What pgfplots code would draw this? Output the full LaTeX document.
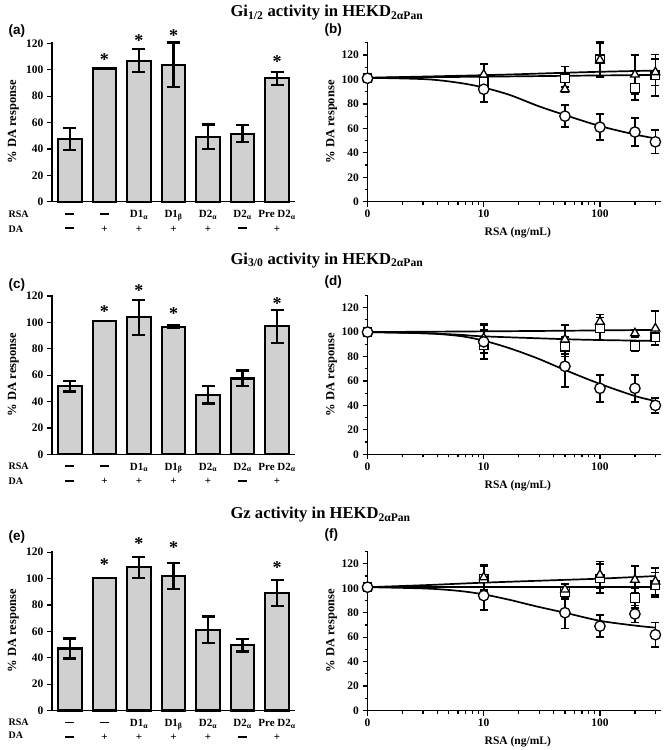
\documentclass[border=0pt]{standalone}
\usepackage{fontspec}
\setmainfont{Liberation Serif}
\newfontfamily\panelfont{Liberation Sans}
\usepackage{pgfplots}
\usepackage{pgfplotstable}
\pgfplotsset{compat=1.18}
\definecolor{barfill}{RGB}{208,208,208}
\newcommand{\dashm}{\rule[0.27em]{9pt}{1.8pt}}
\newcommand{\tl}[2]{\strut #1\\#2}
\newcommand{\sub}[1]{\textsubscript{#1}}

% ---------- bar data: x  mean  error ----------
\pgfplotstableread{
x y e
0 47.3 8.3
1 101 0
2 107 8.8
3 103.7 17
4 49.3 9.2
5 51.5 6.5
6 93.5 4.8
}\barA
\pgfplotstableread{
x y e
0 51.6 4
1 101 0
2 104 13.3
3 96.7 1
4 45 6.5
5 57.5 6
6 97 12.4
}\barC
\pgfplotstableread{
x y e
0 47 7.6
1 100.6 0
2 108.6 7.8
3 102 9.7
4 61.3 10
5 49.5 4.8
6 89 9.8
}\barE

% ---------- dose response data ----------
\pgfplotstableread{
x y e
1 101 0
10 92 10.5
50 70 9
100 61 10.5
200 57 11.5
300 49 9.5
}\bCir
\pgfplotstableread{
x y e
1 101 0
10 98 6
50 101 9.5
100 116.5 14.5
200 93 10
300 103.5 17
}\bSq
\pgfplotstableread{
x y e
1 101 0
10 104 8.5
50 92 2
100 116 14
200 104 16
300 106 11
}\bTri
\pgfplotstableread{
x y
1 101.4
3.2 100.2
6.2 97.2
10 93.4
16.8 87.3
29 78.5
50 70.9
100 61.9
200 55
300 51.8
}\bCirFit
\pgfplotstableread{
x y
1 101.4
10 103.5
50 105.5
100 106.3
300 107.3
}\bTriFit
\pgfplotstableread{
x y
1 101.4
10 102.3
50 103
100 103.3
300 103.7
}\bSqFit

\pgfplotstableread{
x y e
1 100 0
10 92 14
50 72 17
100 54 11
200 54 11
300 40 6
}\dCir
\pgfplotstableread{
x y e
1 100 0
10 89.5 12
50 88 8
100 103 9
200 88.5 4
300 95.7 6
}\dSq
\pgfplotstableread{
x y e
1 100 0
10 95 12
50 94 12
100 108.5 6
200 99 3
300 103 14
}\dTri
\pgfplotstableread{
x y
1 100
3.2 99
6.2 96.8
10 93
16.8 86.7
29 78.5
50 69
100 57.6
200 47.7
300 43.6
}\dCirFit
\pgfplotstableread{
x y
1 100
10 100.6
50 101.1
100 101.4
300 101.8
}\dTriFit
\pgfplotstableread{
x y
1 100
3.2 99
6.2 97.8
10 96.5
50 94.2
100 93.5
300 92.8
}\dSqFit

\pgfplotstableread{
x y e
1 100.9 0
10 94 12
50 80 13
100 69 9
200 79 7
300 62 10
}\fCir
\pgfplotstableread{
x y e
1 100.9 0
10 108 10
50 97 6
100 108 12
200 92 8
300 102.8 10
}\fSq
\pgfplotstableread{
x y e
1 100.9 0
10 109 10
50 99 5
100 111 11
200 107 11
300 105.6 11
}\fTri
\pgfplotstableread{
x y
1 100.9
3.2 99.8
6.2 97.8
10 95
16.8 90.5
29 85
50 80
100 73.4
200 69.5
300 67.8
}\fCirFit
\pgfplotstableread{
x y
1 100.9
3.2 102.6
10 104.6
50 106.9
100 107.9
300 110
}\fTriFit
\pgfplotstableread{
x y
1 100.9
300 100.9
}\fSqFit

\pgfplotsset{
  every axis/.append style={
    scale only axis, anchor=south west, clip=false,
    axis x line*=bottom, axis y line*=left,
    axis line style={line width=1.4pt,-},
    tick align=outside, major tick length=5pt, minor tick length=3pt,
    tick style={line width=1.2pt, black},
    ymin=0, ytick={0,20,...,120},
    tick label style={font=\bfseries\fontsize{11.5}{12}\selectfont},
    ylabel={\% DA response},
    ylabel style={anchor=center, font=\bfseries\fontsize{12.5}{13}\selectfont},
  },
  /pgf/number format/assume math mode=true,
  mybarpanel/.style={
    width=243pt, height=159.6pt,
    xmin=-0.52, xmax=6.52, ymax=121,
    xtick={0,...,6}, major x tick style={draw=none},
    xticklabels={{\tl{\dashm}{\dashm}},{\tl{\dashm}{+}},{\tl{D1\sub{α}}{+}},{\tl{D1\sub{β}}{+}},{\tl{D2\sub{α}}{+}},{\tl{D2\sub{α}}{\dashm}},{\tl{Pre D2\sub{α}}{+}}},
    xticklabel style={align=center, anchor=north, inner sep=0pt, yshift=-0.5pt,
      font=\bfseries\fontsize{11}{14.5}\selectfont},
    ylabel style={at={(axis description cs:-0.159,0.5)}},
  },
  mydosepanel/.style={
    width=293pt, height=159.5pt,
    xmin=1, xmax=332, ymax=130.5,
    xtick={1,10,100}, xticklabels={0,10,100},
    minor xtick={2,3,4,5,6,7,8,9,20,30,40,50,60,70,80,90,200,300},
    minor ytick={10,30,50,70,90,110,130},
    xlabel={RSA (ng/mL)},
    xlabel style={at={(axis description cs:0.513,0)}, anchor=center, yshift=-31pt,
      font=\bfseries\fontsize{11.5}{12}\selectfont},
    ylabel style={at={(axis description cs:-0.123,0.5)}},
  },
}
\tikzset{star/.style={font=\bfseries\fontsize{18}{18}\selectfont, anchor=center, yshift=-2.5pt}}
\newcommand{\barplot}[1]{\addplot[ybar, bar width=23.3pt, fill=barfill, draw=black, line width=2.1pt,
    error bars/.cd, y dir=both, y explicit,
    error bar style={line width=2.1pt, black},
    error mark options={rotate=90, line width=2.1pt, mark size=6.5pt, black}] table[x=x,y=y,y error=e]{#1};}
\newcommand{\fitplot}[1]{\addplot[black, line width=1.7pt, smooth, mark=none] table[x=x,y=y]{#1};}
\newcommand{\ptsplot}[3]{\addplot[black, only marks, mark=#1, mark size=#2, mark options={fill=white, draw=black, line width=1.3pt},
    error bars/.cd, y dir=both, y explicit,
    error bar style={line width=1.7pt, black},
    error mark options={rotate=90, line width=1.7pt, mark size=4pt, black}] table[x=x,y=y,y error=e]{#3};}

\begin{document}
\begin{tikzpicture}
\path[use as bounding box] (0,0) rectangle (665pt,-750pt);

% titles
\node[anchor=base west, font=\bfseries\fontsize{16.6}{20}\selectfont] at (227pt,-16.7pt) {Gi\sub{1/2} activity in HEKD\sub{2αPan}};
\node[anchor=base west, font=\bfseries\fontsize{16.6}{20}\selectfont] at (227pt,-264pt) {Gi\sub{3/0} activity in HEKD\sub{2αPan}};
\node[anchor=base west, font=\bfseries\fontsize{16.6}{20}\selectfont] at (227pt,-518.5pt) {Gz activity in HEKD\sub{2αPan}};

% panel letters
\node[anchor=west, font=\panelfont\bfseries\fontsize{13.5}{15}\selectfont] at (5pt,-31.5pt) {(a)};
\node[anchor=west, font=\panelfont\bfseries\fontsize{13.5}{15}\selectfont] at (321pt,-30pt) {(b)};
\node[anchor=west, font=\panelfont\bfseries\fontsize{13.5}{15}\selectfont] at (5pt,-285pt) {(c)};
\node[anchor=west, font=\panelfont\bfseries\fontsize{13.5}{15}\selectfont] at (321pt,-282.5pt) {(d)};
\node[anchor=west, font=\panelfont\bfseries\fontsize{13.5}{15}\selectfont] at (5pt,-537pt) {(e)};
\node[anchor=west, font=\panelfont\bfseries\fontsize{13.5}{15}\selectfont] at (321pt,-535pt) {(f)};

% RSA / DA row names
\foreach \yy/\zz in {214/229, 466.3/481, 722/735.5}{
  \node[anchor=west, font=\bfseries\fontsize{10}{11}\selectfont] at (5pt,-\yy pt) {RSA};
  \node[anchor=west, font=\bfseries\fontsize{10}{11}\selectfont] at (5pt,-\zz pt) {DA};
}

% ----- (a)
\begin{axis}[mybarpanel, at={(52pt,-201.7pt)}]
\barplot{\barA}
\node[star] at (axis cs:1,109.5) {*};
\node[star] at (axis cs:2,124) {*};
\node[star] at (axis cs:3,127.5) {*};
\node[star] at (axis cs:6,108.5) {*};
\end{axis}
% ----- (b)
\begin{axis}[xmode=log, log basis x=10, mydosepanel, at={(367.5pt,-201.7pt)}]
\fitplot{\bCirFit}
\fitplot{\bTriFit}
\fitplot{\bSqFit}
\ptsplot{square*}{4.3pt}{\bSq}
\ptsplot{triangle*}{5pt}{\bTri}
\ptsplot{*}{5.2pt}{\bCir}
\end{axis}
% ----- (c)
\begin{axis}[mybarpanel, at={(52pt,-454.3pt)}]
\barplot{\barC}
\node[star] at (axis cs:1,110.4) {*};
\node[star] at (axis cs:2,125.8) {*};
\node[star] at (axis cs:3,108.4) {*};
\node[star] at (axis cs:6,116.2) {*};
\end{axis}
% ----- (d)
\begin{axis}[xmode=log, log basis x=10, mydosepanel, at={(367.5pt,-454.3pt)}]
\fitplot{\dCirFit}
\fitplot{\dTriFit}
\fitplot{\dSqFit}
\ptsplot{square*}{4.3pt}{\dSq}
\ptsplot{triangle*}{5pt}{\dTri}
\ptsplot{*}{5.2pt}{\dCir}
\end{axis}
% ----- (e)
\begin{axis}[mybarpanel, at={(52pt,-710.5pt)}]
\barplot{\barE}
\node[star] at (axis cs:1,112.4) {*};
\node[star] at (axis cs:2,128.5) {*};
\node[star] at (axis cs:3,125.5) {*};
\node[star] at (axis cs:6,110.3) {*};
\end{axis}
% ----- (f)
\begin{axis}[xmode=log, log basis x=10, mydosepanel, at={(367.5pt,-710.5pt)}]
\fitplot{\fCirFit}
\fitplot{\fTriFit}
\fitplot{\fSqFit}
\ptsplot{square*}{4.3pt}{\fSq}
\ptsplot{triangle*}{5pt}{\fTri}
\ptsplot{*}{5.2pt}{\fCir}
\end{axis}
\end{tikzpicture}
\end{document}
